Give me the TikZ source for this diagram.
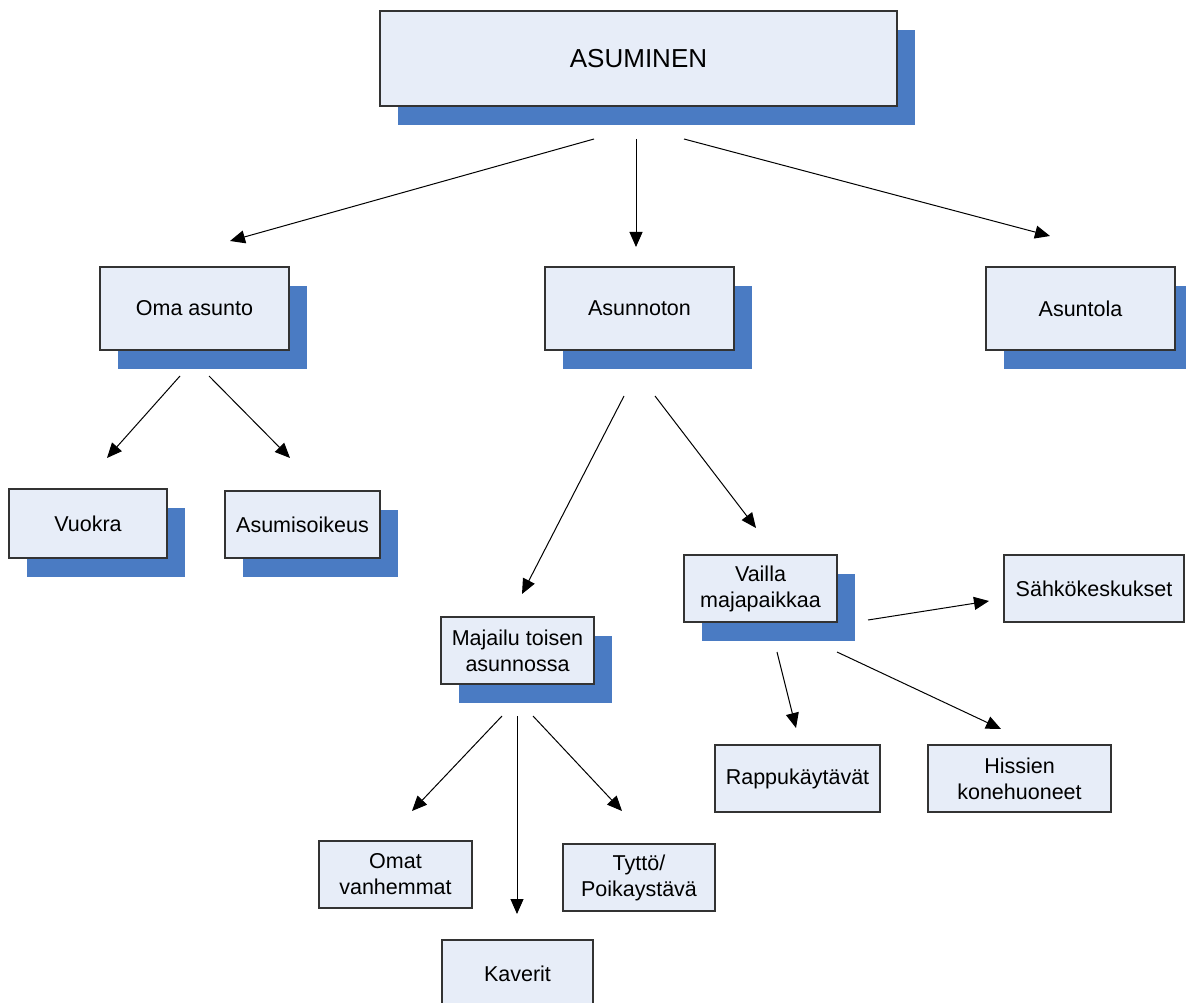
\documentclass[tikz,border=0pt]{standalone}
\usepackage{fontspec}
\setmainfont{Liberation Sans}
\usetikzlibrary{shadows,arrows.meta}
\definecolor{boxfill}{HTML}{E7EDF8}
\definecolor{shadowc}{HTML}{4A7BC3}
\definecolor{edgec}{HTML}{333333}
\tikzset{
  box/.style={draw=edgec, line width=1.2pt, fill=boxfill, align=center, inner sep=0pt,
    font=\fontsize{21.5}{26}\selectfont},
  shbox/.style={box, drop shadow={shadow xshift=18pt, shadow yshift=-19pt, opacity=1, fill=shadowc}},
  arr/.style={line width=1pt, -{Triangle[length=15pt,width=13pt]}},
}
\begin{document}
\begin{tikzpicture}[x=1pt,y=-1pt]
\useasboundingbox[fill=white] (0,0) rectangle (1186,1003);
% boxes
\node[shbox, minimum width=517pt, minimum height=95pt, font=\fontsize{26}{30}\selectfont] (asu) at (638.5,58.5) {ASUMINEN};
\node[shbox, minimum width=189pt, minimum height=83pt] (oma) at (194.5,308.5) {Oma asunto};
\node[shbox, minimum width=189pt, minimum height=83pt] (ason) at (639.5,308.5) {Asunnoton};
\node[shbox, minimum width=189pt, minimum height=83pt] (asla) at (1080.5,308.5) {Asuntola};
\node[shbox, minimum width=158pt, minimum height=69pt] (vuo) at (88,523.5) {Vuokra};
\node[shbox, minimum width=155pt, minimum height=67pt] (asoik) at (302.5,524.5) {Asumisoikeus};
\node[shbox, minimum width=153pt, minimum height=67pt] (maj) at (517.5,650.5) {Majailu toisen\\asunnossa};
\node[shbox, minimum width=153pt, minimum height=67pt] (vai) at (760.5,588.5) {Vailla\\majapaikkaa};
\node[box, minimum width=180pt, minimum height=67pt] (sah) at (1094,588.5) {Sähkökeskukset};
\node[box, minimum width=165pt, minimum height=67pt] (rap) at (797.5,778.5) {Rappukäytävät};
\node[box, minimum width=183pt, minimum height=67pt] (his) at (1019.5,778.5) {Hissien\\konehuoneet};
\node[box, minimum width=153pt, minimum height=67pt] (omat) at (395.5,874.5) {Omat\\vanhemmat};
\node[box, minimum width=152pt, minimum height=67pt] (tyt) at (639,877.5) {Tyttö/\\Poikaystävä};
\node[box, minimum width=151pt, minimum height=68pt] (kav) at (517.5,974) {Kaverit};
% arrow end points
\coordinate (a1s) at (594,139); \coordinate (a1e) at (230,241);
\coordinate (a2s) at (636,139); \coordinate (a2e) at (636,247);
\coordinate (a3s) at (684,139); \coordinate (a3e) at (1050,236);
\coordinate (b1s) at (180,376); \coordinate (b1e) at (107,458);
\coordinate (b2s) at (209,376); \coordinate (b2e) at (290,458);
\coordinate (c1s) at (624,396); \coordinate (c1e) at (522,594);
\coordinate (c2s) at (655,396); \coordinate (c2e) at (756,528);
\coordinate (d1s) at (502,716); \coordinate (d1e) at (412,811);
\coordinate (d2s) at (517,716); \coordinate (d2e) at (517,914);
\coordinate (d3s) at (533,716); \coordinate (d3e) at (622,811);
\coordinate (e1s) at (868,620); \coordinate (e1e) at (989,601);
\coordinate (e2s) at (777,652); \coordinate (e2e) at (796,728);
\coordinate (e3s) at (837,652); \coordinate (e3e) at (1001,729);
% arrows
\foreach \a in {a1,a2,a3,b1,b2,c1,c2,d1,d2,d3,e1,e2,e3}
  \draw[arr] (\a s) -- (\a e);
\end{tikzpicture}
\end{document}
